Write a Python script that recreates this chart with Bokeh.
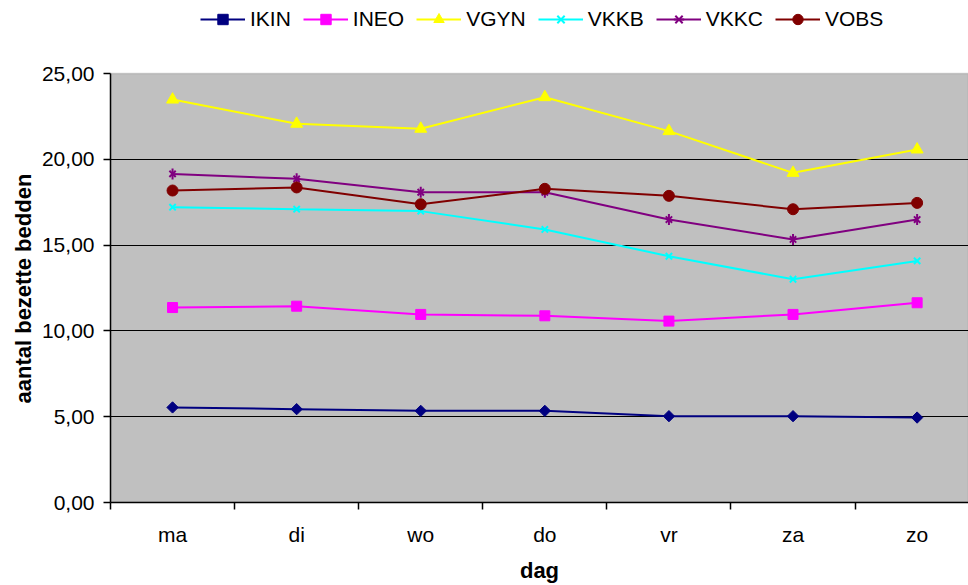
import math
from bokeh.plotting import figure
from bokeh.models import (Range1d, FixedTicker, Legend, LegendItem, ColumnDataSource,
                          BoxAnnotation, Title)
from bokeh.embed import file_html
from bokeh.resources import INLINE

# ---- data ----
days = ["ma", "di", "wo", "do", "vr", "za", "zo"]
series_names = ["IKIN", "INEO", "VGYN", "VKKB", "VKKC", "VOBS"]
ikin = [5.54, 5.44, 5.34, 5.34, 5.03, 5.03, 4.95]
ineo = [11.36, 11.44, 10.96, 10.88, 10.57, 10.96, 11.64]
vgyn = [23.48, 22.07, 21.78, 23.62, 21.64, 19.21, 20.57]
vkkb = [17.21, 17.09, 16.98, 15.91, 14.35, 13.01, 14.08]
vkkc = [19.15, 18.86, 18.08, 18.08, 16.49, 15.33, 16.49]
vobs = [18.18, 18.36, 17.38, 18.28, 17.87, 17.09, 17.46]
y_ticks = [0, 5, 10, 15, 20, 25]
y_tick_labels = ["0,00", "5,00", "10,00", "15,00", "20,00", "25,00"]
y_max = 25
x_title = "dag"
y_title = "aantal bezette bedden"

FONT = "Liberation Sans"
xpos = list(range(len(days)))

# frame spans the full height above the x axis; the legend lives in the top strip
TOP_STRIP = 73.0
FRAME_H = 502.0
y_top = y_max * FRAME_H / (FRAME_H - TOP_STRIP)

p = figure(width=968, height=585, output_backend="svg", toolbar_location=None,
           x_range=Range1d(-0.5, 6.414), y_range=Range1d(0, y_top),
           min_border_left=110, min_border_right=0, min_border_top=0, min_border_bottom=83)
p.background_fill_color = "white"
p.border_fill_color = "white"
p.outline_line_color = None

# grey plot area
plot_area = BoxAnnotation(bottom=0, top=y_max, fill_color="#C0C0C0", fill_alpha=1,
                          line_color="#808080", line_width=1.5, level="image")
p.add_layout(plot_area)

# axes
p.xaxis.ticker = FixedTicker(ticks=xpos, minor_ticks=[i - 0.5 for i in range(len(days) + 1)])
p.xaxis.major_label_overrides = {i: d for i, d in enumerate(days)}
p.xaxis.major_tick_out = 0
p.xaxis.major_tick_in = 0
p.xaxis.minor_tick_out = 7
p.xaxis.minor_tick_in = 0
p.xaxis.minor_tick_line_color = "black"
p.xaxis.minor_tick_line_width = 1.5
p.xaxis.major_label_standoff = 13
p.xaxis.axis_label = x_title
p.xaxis.axis_label_standoff = 9

p.yaxis.ticker = FixedTicker(ticks=y_ticks)
p.yaxis.bounds = (0, y_max)
p.yaxis.major_label_overrides = {t: l for t, l in zip(y_ticks, y_tick_labels)}
p.yaxis.major_tick_out = 7
p.yaxis.major_tick_in = 0
p.yaxis.minor_tick_line_color = None
p.yaxis.major_label_standoff = 9

for ax in (p.xaxis[0], p.yaxis[0]):
    ax.axis_line_color = "black"
    ax.axis_line_width = 1.5
    ax.major_tick_line_color = "black"
    ax.major_tick_line_width = 1.5
    ax.major_label_text_font = FONT
    ax.major_label_text_font_size = "21px"
    ax.major_label_text_color = "black"
    ax.axis_label_text_font = FONT
    ax.axis_label_text_font_size = "22px"
    ax.axis_label_text_font_style = "bold"
    ax.axis_label_text_color = "black"

# y axis title, placed along the grey plot area (not the whole frame)
ytitle = Title(text=y_title, align="left", offset=99, standoff=5,
               text_font=FONT, text_font_size="22px", text_font_style="bold",
               text_color="black")
p.add_layout(ytitle, "left")

p.xgrid.grid_line_color = None
p.ygrid.ticker = FixedTicker(ticks=[5, 10, 15, 20])
p.ygrid.grid_line_color = "black"
p.ygrid.grid_line_width = 1.2

values = [ikin, ineo, vgyn, vkkb, vkkc, vobs]
colors = ["#000080", "#FF00FF", "#FFFF00", "#00FFFF", "#800080", "#800000"]

items = []
for name, vals, col in zip(series_names, values, colors):
    src = ColumnDataSource(dict(x=xpos, y=vals))
    rs = [p.line("x", "y", source=src, line_color=col, line_width=2)]
    if name == "IKIN":
        rs.append(p.scatter("x", "y", source=src, marker="square", angle=math.pi / 4,
                            size=8, fill_color=col, line_color=col))
    elif name == "INEO":
        rs.append(p.scatter("x", "y", source=src, marker="square", size=10,
                            fill_color=col, line_color=col))
    elif name == "VGYN":
        rs.append(p.scatter("x", "y", source=src, marker="triangle", size=12,
                            fill_color=col, line_color=col))
    elif name == "VKKB":
        rs.append(p.scatter("x", "y", source=src, marker="x", size=9,
                            line_color=col, line_width=2))
    elif name == "VKKC":
        rs.append(p.scatter("x", "y", source=src, marker="x", size=9,
                            line_color=col, line_width=2))
        rs.append(p.scatter("x", "y", source=src, marker="dash", angle=math.pi / 2, size=11,
                            line_color=col, line_width=2))
    else:
        rs.append(p.scatter("x", "y", source=src, marker="circle", size=11,
                            fill_color=col, line_color=col))
    items.append(LegendItem(label=name, renderers=rs))

legend = Legend(items=items, orientation="horizontal", location=(90, 470),
                glyph_width=45, glyph_height=26, label_standoff=5, spacing=12,
                padding=0, margin=0, border_line_alpha=0, background_fill_alpha=0,
                label_text_font=FONT, label_text_font_size="21px", label_text_color="black")
p.add_layout(legend, "center")

open("out.html", "w").write(file_html(p, INLINE))
